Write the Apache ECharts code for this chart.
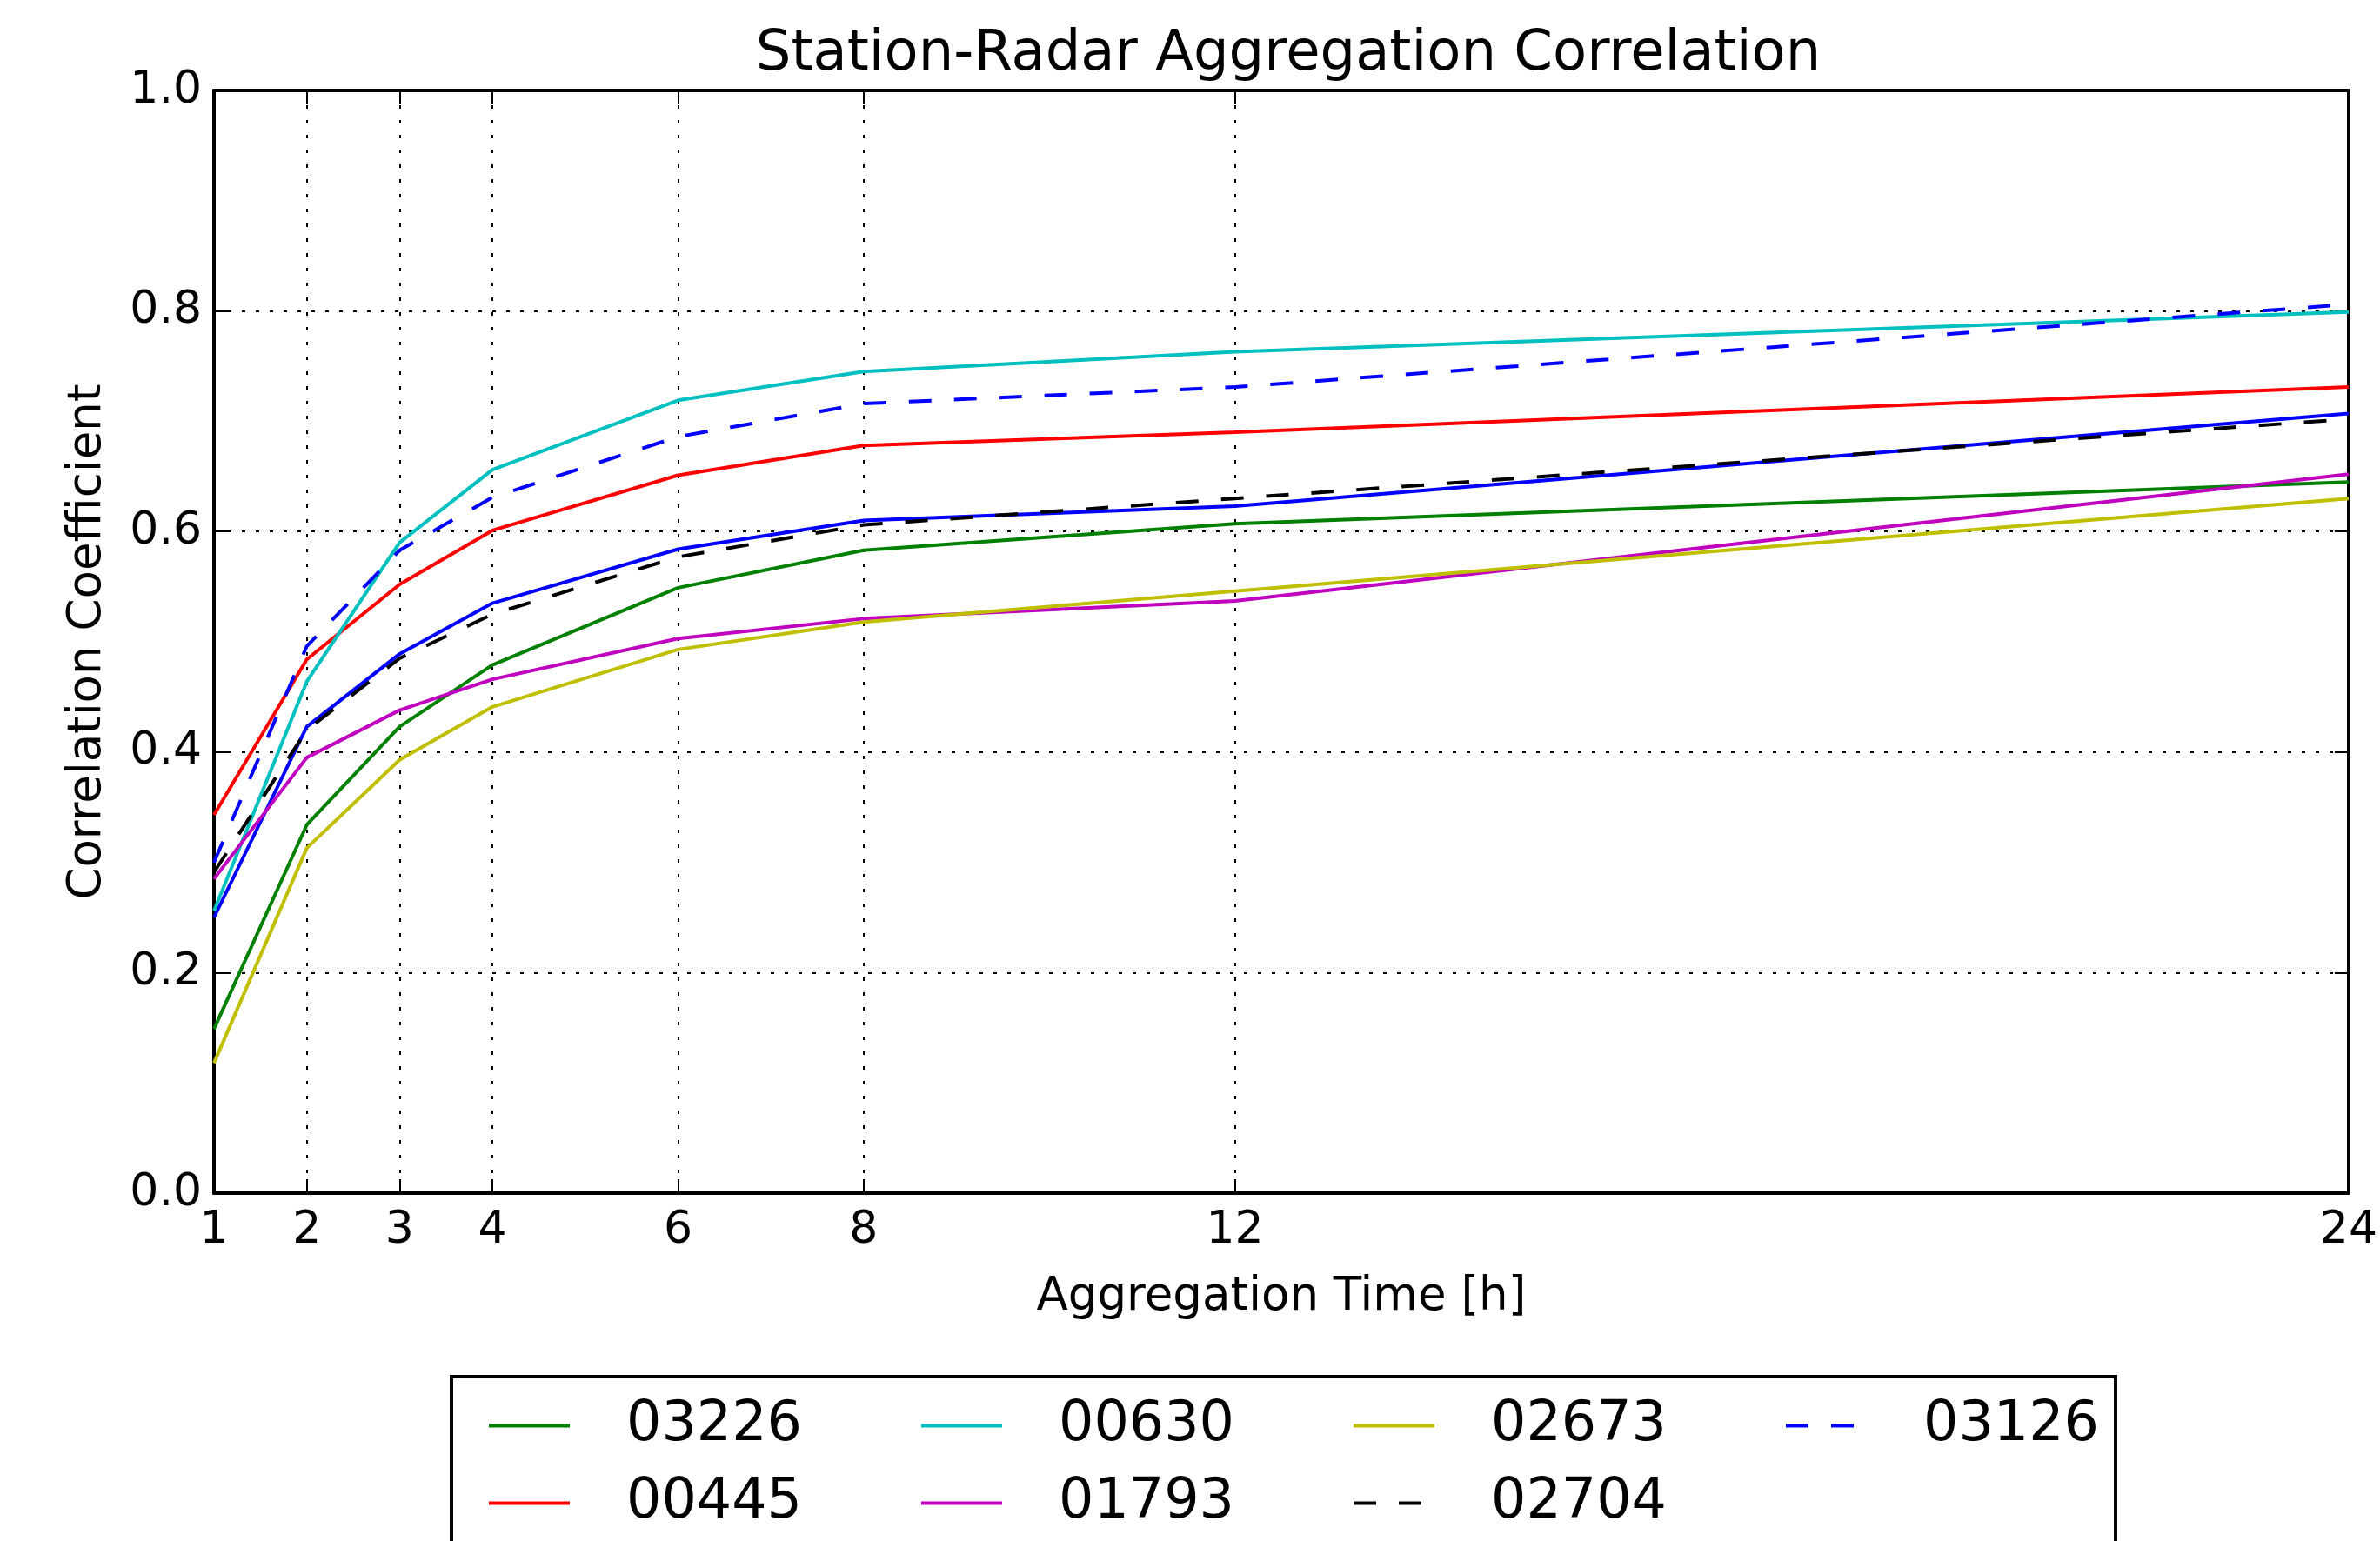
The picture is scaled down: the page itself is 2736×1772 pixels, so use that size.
<!DOCTYPE html>
<html>
<head>
<meta charset="utf-8">
<script src="https://cdn.jsdelivr.net/npm/echarts@6/dist/echarts.min.js"></script>
<style>
  html, body { margin: 0; padding: 0; background: #fff; }
  #chart { width: 2736px; height: 1772px; }
</style>
</head>
<body>
<div id="chart"></div>
<script>
// ---- data ----
const hours = [1, 2, 3, 4, 6, 8, 12, 24];
const xTickValues = [1, 2, 3, 4, 6, 8, 12, 24];
const yTickValues = [0.0, 0.2, 0.4, 0.6, 0.8, 1.0];

const meanLine = [0.250, 0.423, 0.489, 0.535, 0.584, 0.610, 0.623, 0.707]; // unlabeled blue solid
const s03226 = [0.149, 0.334, 0.423, 0.479, 0.549, 0.583, 0.607, 0.645];
const s00445 = [0.343, 0.484, 0.552, 0.601, 0.651, 0.678, 0.690, 0.731];
const s00630 = [0.256, 0.464, 0.590, 0.656, 0.719, 0.745, 0.763, 0.799];
const s01793 = [0.285, 0.395, 0.438, 0.466, 0.503, 0.521, 0.537, 0.652];
const s02673 = [0.118, 0.313, 0.393, 0.441, 0.493, 0.518, 0.546, 0.630];
const s02704 = [0.291, 0.420, 0.485, 0.525, 0.577, 0.606, 0.630, 0.702];
const s03126 = [0.300, 0.496, 0.583, 0.631, 0.686, 0.716, 0.731, 0.806];

const FONT = 'DejaVu Sans';

function mkSeries(name, vals, color, dashed) {
  return {
    name: name,
    type: 'line',
    data: hours.map((h, i) => [h, vals[i]]),
    symbol: 'none',
    showSymbol: false,
    lineStyle: { color: color, width: 4, type: dashed ? [26, 26] : 'solid' },
    itemStyle: { color: color },
    emphasis: { disabled: true },
    silent: true
  };
}

const series = [
  mkSeries('mean', meanLine, '#0000ff', false),
  mkSeries('03226', s03226, '#008000', false),
  mkSeries('00445', s00445, '#ff0000', false),
  mkSeries('00630', s00630, '#00bfbf', false),
  mkSeries('01793', s01793, '#bf00bf', false),
  mkSeries('02673', s02673, '#bfbf00', false),
  mkSeries('02704', s02704, '#000000', true),
  mkSeries('03126', s03126, '#0000ff', true)
];

const chart = echarts.init(document.getElementById('chart'), null, { renderer: 'canvas' });

const gridDotted = { color: '#000', width: 2, type: [4, 13] };

const option = {
  animation: false,
  backgroundColor: '#fff',
  title: {
    text: 'Station-Radar Aggregation Correlation',
    left: 1481, top: 31, textAlign: 'center', padding: 0,
    textStyle: { fontFamily: FONT, fontSize: 64, fontWeight: 'normal', color: '#000' }
  },
  grid: { left: 246, right: 32, top: 104, bottom: 400, containLabel: false },
  xAxis: [{
    type: 'value', min: 1, max: 24, position: 'bottom',
    name: 'Aggregation Time [h]', nameLocation: 'middle', nameGap: 94,
    nameTextStyle: { fontFamily: FONT, fontSize: 53, color: '#000' },
    axisLine: { show: true, onZero: false, lineStyle: { color: '#000', width: 4 } },
    axisTick: { show: true, inside: true, length: 16, customValues: xTickValues, lineStyle: { color: '#000', width: 2 } },
    axisLabel: { show: true, customValues: xTickValues, margin: 17, fontFamily: FONT, fontSize: 52, color: '#000' },
    splitLine: { show: true, lineStyle: gridDotted }
  }, {
    type: 'value', min: 1, max: 24, position: 'top',
    axisLine: { show: true, onZero: false, lineStyle: { color: '#000', width: 4 } },
    axisTick: { show: true, inside: true, length: 16, customValues: xTickValues, lineStyle: { color: '#000', width: 2 } },
    axisLabel: { show: false },
    splitLine: { show: false }
  }],
  yAxis: [{
    type: 'value', min: 0, max: 1, interval: 0.2, position: 'left',
    name: 'Correlation Coefficient', nameLocation: 'middle', nameGap: 118,
    nameTextStyle: { fontFamily: FONT, fontSize: 53, color: '#000' },
    axisLine: { show: true, onZero: false, lineStyle: { color: '#000', width: 4 } },
    axisTick: { show: true, inside: true, length: 16, lineStyle: { color: '#000', width: 2 } },
    axisLabel: { show: true, margin: 14, fontFamily: FONT, fontSize: 52, color: '#000',
      formatter: v => yTickValues.find(t => Math.abs(t - v) < 1e-9).toFixed(1) },
    splitLine: { show: true, lineStyle: { color: '#000', width: 2, type: [4, 12] } }
  }, {
    type: 'value', min: 0, max: 1, interval: 0.2, position: 'right',
    axisLine: { show: true, onZero: false, lineStyle: { color: '#000', width: 4 } },
    axisTick: { show: true, inside: true, length: 16, lineStyle: { color: '#000', width: 2 } },
    axisLabel: { show: false },
    splitLine: { show: false }
  }],
  legend: {
    orient: 'horizontal',
    left: 519, top: 1583,
    padding: [22, 16, 300, 41],
    itemGap: 20,
    itemWidth: 93, itemHeight: 14,
    borderColor: '#000', borderWidth: 4, borderRadius: 0,
    backgroundColor: '#fff',
    selectedMode: false,
    itemStyle: { opacity: 0 },
    lineStyle: { width: 4 },
    textStyle: { fontFamily: FONT, fontSize: 63.5, color: '#000', lineHeight: 69, width: 317, padding: [0, 0, 0, 60] },
    data: [
      '03226', '00630', '02673',
      { name: '03126', textStyle: { width: 205 } },
      '',
      '00445', '01793', '02704'
    ]
  },
  series: series.map((s, i) => Object.assign(s, { xAxisIndex: 0, yAxisIndex: 0 }))
};

chart.setOption(option);
</script>
</body>
</html>
